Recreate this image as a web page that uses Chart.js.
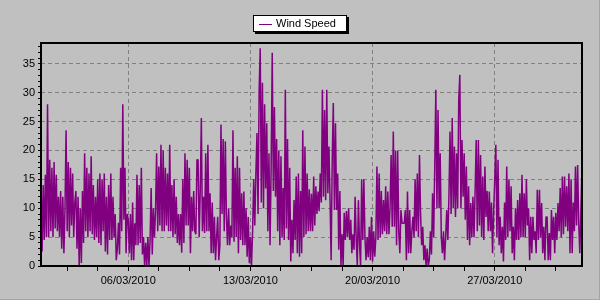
<!DOCTYPE html>
<html>
<head>
<meta charset="utf-8">
<script src="https://cdn.jsdelivr.net/npm/chart.js@4.4.1/dist/chart.umd.min.js"></script>
<style>
  html, body { margin: 0; padding: 0; background: #c0c0c0; }
  canvas { display: block; }
</style>
</head>
<body>
<canvas id="windChart" width="600" height="300"></canvas>
<script>
// one reading every 1.5 hours, 01/03/2010 00:00 -> 01/04/2010 00:00
const stepHours = 1.5;
const windSpeed = [
  15, 2.5, 14, 4.5, 15.8, 5, 28, 5, 18.4, 6, 17, 5, 18, 6.5, 15.8, 6,                 // 01/03
  12, 5, 13, 3, 12, 2.2, 10, 23.5, 6, 18, 5, 17, 7, 16, 5, 11,
  13, 3, 12, 0, 10, 0.5, 13, 4, 19.5, 6, 17, 5, 16, 6, 19, 5.5,
  14, 4.5, 12, 5, 15, 4, 16, 3.6, 15, 6, 16, 2.5, 12, 2, 14, 4.5,
  16, 4.5, 12, 5, 9, 1, 3, 7.5, 2, 17, 6, 28, 8, 17, 2.2, 9,
  8, 2.2, 9, 1, 11, 1, 7.4, 3.6, 15.8, 3.6, 14, 4, 17, 2, 5, 0,                     // 06/03
  4, 0, 5, 0, 4.5, 13.5, 2, 10, 5, 9.5, 19.5, 6, 17.2, 7, 21, 6,
  20, 6, 17, 7, 16, 6, 21, 6, 14, 5, 15, 5.5, 12, 4, 9, 3.6,
  9, 2.3, 15, 4, 19.5, 7, 18.4, 7, 17, 2.2, 12, 6, 13, 6, 5.5, 18.4,
  18.4, 5, 13, 25.6, 6, 12, 5.7, 19.5, 6, 21, 6, 12.6, 2.2, 11, 2.2, 8.5,
  1, 5, 8.5, 1, 3.6, 24.5, 9, 22, 6, 21.6, 8.5, 3.6, 10, 3.6, 7, 5,
  23.5, 4.2, 17, 5, 19, 2.2, 17, 4.5, 12.6, 3.6, 12.9, 3.6, 10, 1.6, 8.5, 0.5,
  5, 0, 6, 15, 7, 16, 23, 9, 30.5, 37.7, 11, 31.7, 10, 28, 13.4, 24.7,               // 13/03
  6, 19.5, 3.6, 17, 36.9, 13, 27.5, 12, 22, 6, 20, 3.6, 19, 5, 13.5, 4.5,
  30.5, 6.5, 22, 4.5, 17, 0.8, 8, 2.2, 11.4, 4.5, 15.5, 2.2, 16, 1.6, 13, 2.2,
  23.5, 5, 20.7, 5.5, 16, 6, 13.3, 6, 12.5, 6, 15.5, 7, 13.8, 9, 12.9, 9.5,
  16, 11, 30.5, 12, 27, 11.4, 30.5, 12.6, 20.7, 11.4, 1, 18.4, 28.2, 9.7, 24.7, 9.7,
  16, 2.8, 13, 0, 5.5, 0, 9.2, 4.5, 9.5, 5, 10, 4.5, 8, 2.2, 5.5, 2.8,
  12, 4.5, 0, 11.4, 4, 0, 15, 4.5, 15, 5, 1, 5, 1.5, 6.8, 1, 8.5,
  0.8, 6, 1.6, 5, 17.2, 4.5, 16, 5, 13, 5.5, 11.4, 6, 13.8, 5.5, 12.9, 5.5,         // 20/03
  10, 19.2, 6.8, 23.3, 6.8, 20, 3.6, 20, 6, 2.2, 9.7, 7.4, 7.4, 7.4, 9.7, 1,
  12.9, 2.2, 9.7, 2.2, 6, 8.5, 5, 15, 6, 16, 5, 19.2, 9, 3.6, 6.8, 1,
  3.6, 0, 3, 0, 1, 6, 2, 12.6, 5, 17.2, 30.5, 10, 27, 10, 19.5, 5,
  2.2, 6, 1, 5, 9.7, 4.5, 12, 23.3, 9, 25.6, 10, 20.7, 8.5, 19.5, 10, 28.8,
  33.1, 10, 21.8, 12, 19.5, 8, 17.2, 4.5, 13.8, 3.6, 10.9, 5, 12, 5, 13, 21.8,
  6, 21.8, 7, 19.2, 5, 15.5, 4.5, 17.2, 8.5, 13, 6, 12.9, 6, 11, 2.2, 9.5,
  15, 21, 5, 18.4, 3.6, 8.5, 2.2, 6.8, 0.8, 11, 4.5, 17.2, 5, 15, 6, 13.8,          // 27/03
  2.2, 6.8, 1, 10, 4.5, 11.4, 4.5, 12.6, 5, 15.8, 5, 12.6, 5, 15, 7, 10,
  1, 8.5, 2.2, 8.5, 4.5, 6, 2.2, 13.2, 4.5, 13.2, 5, 10.9, 2.2, 6.8, 1, 8.5,
  8.5, 1, 5.7, 1, 9.7, 4.5, 8.5, 2.2, 9.2, 4.5, 10.9, 6, 13.5, 5, 15.5, 5.5,
  15.5, 6.8, 13.8, 6, 16, 2.2, 15, 2.2, 11, 6, 17.2, 7, 17.5, 7.4, 2.2, 9.7,
  17.2
];

// x axis is in days since 01/03/2010
const majorTickDays = [5, 12, 19, 26];
const majorTickLabels = ['06/03/2010', '13/03/2010', '20/03/2010', '27/03/2010'];
const minorTickDays = [1.5, 3.25, 5, 6.75, 8.5, 10.25, 12, 13.75, 15.5, 17.25, 19, 20.75, 22.5, 24.25, 26, 27.75, 29.5];
const yTickValues = [0, 1, 2, 3, 4, 5, 6, 7, 8, 9, 10, 11, 12, 13, 14, 15, 16, 17, 18, 19,
  20, 21, 22, 23, 24, 25, 26, 27, 28, 29, 30, 31, 32, 33, 34, 35, 36, 37, 38];

const points = windSpeed.map((v, i) => ({x: i * stepHours / 24, y: v}));

const chartFrame = {
  id: 'chartFrame',
  beforeDraw(chart) {
    const ctx = chart.ctx;
    ctx.save();
    ctx.fillStyle = '#c0c0c0';
    ctx.fillRect(0, 0, chart.width, chart.height);
    ctx.fillStyle = '#a4a4a4';
    ctx.fillRect(chart.width - 1, 0, 1, chart.height);
    ctx.fillRect(0, chart.height - 1, chart.width, 1);
    ctx.restore();
  },
  afterDatasetsDraw(chart) {
    const ctx = chart.ctx;
    const a = chart.chartArea;
    ctx.save();
    ctx.strokeStyle = '#000';
    ctx.lineWidth = 2;
    ctx.strokeRect(a.left, a.top, a.right - a.left, a.bottom - a.top);
    ctx.restore();
  },
  afterDraw(chart) {
    // boxed legend with drop shadow
    const ctx = chart.ctx;
    const ds = chart.data.datasets[0];
    ctx.save();
    ctx.font = '11px "Liberation Sans", Arial, sans-serif';
    const tw = ctx.measureText(ds.label).width;
    const w = Math.round(6 + 13 + 5 + tw + 10);
    const h = 17;
    const x = Math.round(300 - w / 2);
    const y = 15;
    ctx.fillStyle = '#000';
    ctx.fillRect(x + 2, y + 2, w, h);
    ctx.fillStyle = '#fff';
    ctx.fillRect(x, y, w, h);
    ctx.strokeStyle = '#000';
    ctx.lineWidth = 1;
    ctx.strokeRect(x + 0.5, y + 0.5, w - 1, h - 1);
    ctx.strokeStyle = ds.borderColor;
    ctx.beginPath();
    ctx.moveTo(x + 6, y + 9.5);
    ctx.lineTo(x + 19, y + 9.5);
    ctx.stroke();
    ctx.fillStyle = '#000';
    ctx.textBaseline = 'middle';
    ctx.fillText(ds.label, x + 23, y + 9);
    ctx.restore();
  }
};

Chart.defaults.font.family = '"Liberation Sans", Arial, sans-serif';
Chart.defaults.font.size = 11;
Chart.defaults.color = '#000';

new Chart(document.getElementById('windChart'), {
  type: 'line',
  data: {
    datasets: [{
      label: 'Wind Speed',
      data: points,
      borderColor: '#800080',
      borderWidth: 1.5,
      borderJoinStyle: 'bevel',
      pointRadius: 0,
      tension: 0,
      fill: false
    }]
  },
  options: {
    responsive: false,
    animation: false,
    devicePixelRatio: 1,
    layout: {padding: {top: 43, right: 18, left: 0, bottom: 0}},
    plugins: {legend: {display: false}, tooltip: {enabled: false}},
    scales: {
      x: {
        type: 'linear',
        min: 0,
        max: 31,
        afterBuildTicks: (scale) => { scale.ticks = minorTickDays.map(v => ({value: v})); },
        afterFit: (scale) => { scale.height = 34; },
        ticks: {
          autoSkip: false,
          maxRotation: 0,
          padding: 3,
          callback: (value) => {
            const i = majorTickDays.indexOf(value);
            return i >= 0 ? majorTickLabels[i] : '';
          }
        },
        grid: {
          color: (c) => majorTickDays.includes(c.tick && c.tick.value) ? '#808080' : 'rgba(0,0,0,0)',
          tickColor: '#000',
          tickLength: 5
        },
        border: {display: false, dash: [4, 3]}
      },
      y: {
        min: 0,
        max: 38.6,
        afterBuildTicks: (scale) => { scale.ticks = yTickValues.map(v => ({value: v})); },
        afterFit: (scale) => { scale.width = 41; },
        ticks: {
          autoSkip: false,
          padding: 3,
          callback: (value) => value % 5 === 0 ? String(value) : ''
        },
        grid: {
          color: (c) => (c.tick && c.tick.value > 0 && c.tick.value % 5 === 0) ? '#808080' : 'rgba(0,0,0,0)',
          tickColor: '#000',
          tickLength: 3
        },
        border: {display: false, dash: [4, 3]}
      }
    }
  },
  plugins: [chartFrame]
});
</script>
</body>
</html>
